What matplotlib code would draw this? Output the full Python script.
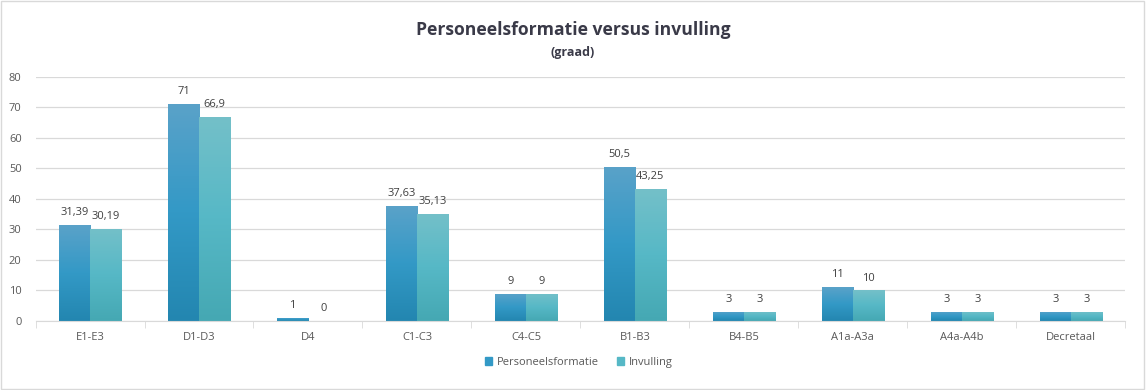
import numpy as np
from matplotlib import pyplot as plt
from matplotlib.colors import LinearSegmentedColormap
from matplotlib.patches import Patch

categories = ['E1-E3', 'D1-D3', 'D4', 'C1-C3', 'C4-C5', 'B1-B3', 'B4-B5', 'A1a-A3a', 'A4a-A4b', 'Decretaal']
formatie = [31.39, 71, 1, 37.63, 9, 50.5, 3, 11, 3, 3]
invulling = [30.19, 66.9, 0, 35.13, 9, 43.25, 3, 10, 3, 3]
formatie_labels = ['31,39', '71', '1', '37,63', '9', '50,5', '3', '11', '3', '3']
invulling_labels = ['30,19', '66,9', '0', '35,13', '9', '43,25', '3', '10', '3', '3']

plt.rcParams['font.family'] = ['Open Sans', 'DejaVu Sans']

cmap_blue = LinearSegmentedColormap.from_list('b', ['#2386B0', '#3399C6', '#5AA2C9'])
cmap_teal = LinearSegmentedColormap.from_list('t', ['#45A8B3', '#56B8C6', '#74C0C9'])

fig = plt.figure(figsize=(11.46, 3.9), dpi=100)
ax = fig.add_axes([0.031, 0.177, 0.951, 0.626])

x = np.arange(len(categories))
w = 0.285

grad = np.linspace(0, 1, 256).reshape(-1, 1)


def grad_bars(xs, vals, cmap):
    bars = ax.bar(xs, vals, w, color='none', edgecolor='none', zorder=2)
    for b in bars:
        h = b.get_height()
        if h <= 0:
            continue
        x0 = b.get_x()
        im = ax.imshow(grad, cmap=cmap, origin='lower', aspect='auto',
                       extent=(x0, x0 + b.get_width(), 0, h), zorder=2, interpolation='bilinear')
        im.set_clip_path(b)
    return bars


b1 = grad_bars(x - w / 2, formatie, cmap_blue)
b2 = grad_bars(x + w / 2, invulling, cmap_teal)

for xi, v, lab in zip(x - w / 2, formatie, formatie_labels):
    ax.annotate(lab, (xi, v), xytext=(0, 5), textcoords='offset points', ha='center', va='bottom',
                fontsize=8, color='#404040')
for xi, v, lab in zip(x + w / 2, invulling, invulling_labels):
    ax.annotate(lab, (xi, v), xytext=(0, 5), textcoords='offset points', ha='center', va='bottom',
                fontsize=8, color='#404040')

ax.set_xlim(-0.5, len(categories) - 0.5)
ax.set_ylim(0, 80)
ax.set_yticks(range(0, 81, 10))
ax.yaxis.grid(True, color='#D9D9D9', lw=0.9)
ax.set_axisbelow(True)
ax.tick_params(axis='y', length=0, labelsize=8, labelcolor='#595959', pad=10)
ax.set_xticks(x)
ax.set_xticklabels(categories)
ax.set_xticks(np.arange(-0.5, len(categories), 1), minor=True)
ax.tick_params(axis='x', which='major', length=0, labelsize=8, labelcolor='#595959', pad=8)
ax.tick_params(axis='x', which='minor', length=5, color='#D9D9D9')
for s in ['top', 'right', 'left']:
    ax.spines[s].set_visible(False)
ax.spines['bottom'].set_color('#D9D9D9')

fig.text(0.5, 0.923, 'Personeelsformatie versus invulling', ha='center', va='center',
         fontsize=12.6, fontweight='bold', color='#3A3A48')
fig.text(0.5, 0.866, '(graad)', ha='center', va='center', fontsize=9, fontweight='bold', color='#3A3A48')

handles = [Patch(color='#3399C6'), Patch(color='#56B8C6')]
fig.legend(handles, ['Personeelsformatie', 'Invulling'], loc='center', bbox_to_anchor=(0.505, 0.07),
           ncol=2, frameon=False, fontsize=8, handlelength=0.7, handleheight=0.7, columnspacing=1.6,
           handletextpad=0.4, labelcolor='#595959')

fig.patches.append(plt.Rectangle((0.001, 0.002), 0.997, 0.995, transform=fig.transFigure,
                                 fill=False, edgecolor='#D9D9D9', lw=1))

fig.savefig('out.png', dpi=100)
